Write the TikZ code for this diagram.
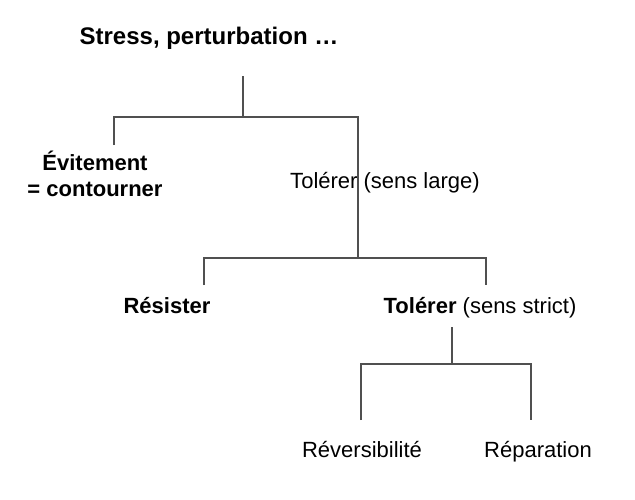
\documentclass[tikz,border=0pt]{standalone}
\usepackage{fontspec}
\setmainfont{Liberation Sans}
\usetikzlibrary{positioning,calc}
\definecolor{linegray}{RGB}{80,80,80}

\begin{document}
\begin{tikzpicture}[x=1pt,y=-1pt,
            branch/.style={draw=linegray, line width=2.8pt},
            lbl/.style={inner sep=0pt, anchor=base, font=\fontsize{22}{26}\selectfont}]
            \useasboundingbox (0,0) rectangle (635,499);

            % labels
            \node[lbl, font=\fontsize{24}{28}\selectfont\bfseries] (stress) at (209,44) {Stress, perturbation …};
            \node[lbl, align=center, font=\fontsize{22}{26}\selectfont\bfseries] (evit) at (95,196) {Évitement\\= contourner};
            \node[lbl] (large) at (385,188) {Tolérer (sens large)};
            \node[lbl] (resist) at (167,313) {\textbf{Résister}};
            \node[lbl] (strict) at (480,313) {\textbf{Tolérer} (sens strict)};
            \node[lbl] (revers) at (362,457) {Réversibilité};
            \node[lbl] (repar) at (538,457) {Réparation};

            % branch points
            \coordinate (A0) at (243,76);
            \coordinate (A1) at (243,117);
            \coordinate (A2) at (114,145);
            \coordinate (A3) at (358,258);
            \coordinate (B1) at (204,285);
            \coordinate (B2) at (486,285);
            \coordinate (C0) at (452,327);
            \coordinate (C1) at (452,364);
            \coordinate (C2) at (361,420);
            \coordinate (C3) at (531,420);

            \draw[branch] (A0) -- (A1);
            \draw[branch] (A2) |- (A1) -| (A3);
            \draw[branch] (B1) |- (A3) -| (B2);
            \draw[branch] (C0) -- (C1);
            \draw[branch] (C2) |- (C1) -| (C3);
        \end{tikzpicture}
\end{document}
